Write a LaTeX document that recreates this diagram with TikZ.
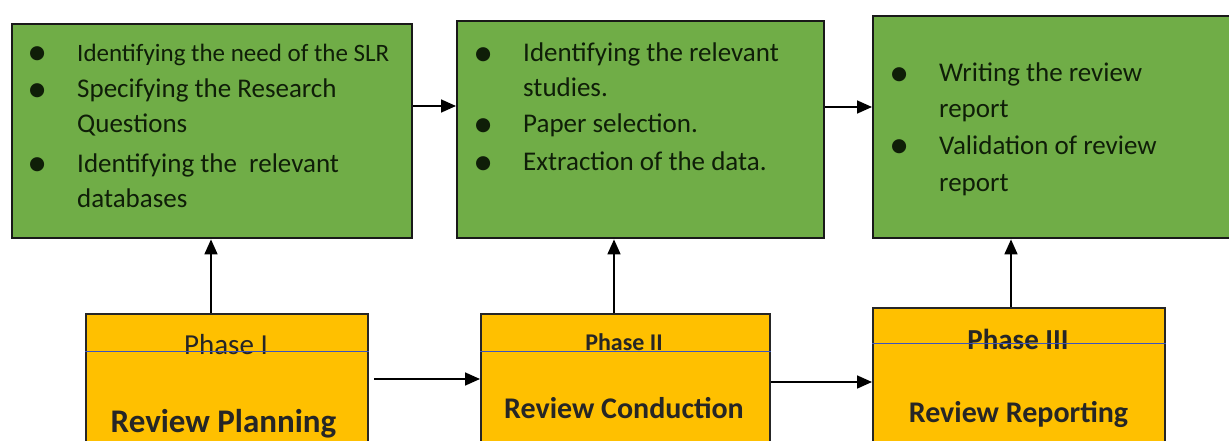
\documentclass[tikz,border=0pt]{standalone}
\usepackage{fontspec}
\setmainfont{Carlito}
\newfontfamily\symfont{DejaVu Sans}
\usetikzlibrary{arrows.meta}
\definecolor{gbox}{RGB}{112,173,71}
\definecolor{obox}{RGB}{255,192,0}
\definecolor{divline}{RGB}{60,85,190}
\definecolor{gtext}{RGB}{15,30,8}
\newcommand\bitem{\makebox[40pt][l]{\makebox[0pt]{\smash{\raisebox{2.7pt}{\symfont\fontsize{18.5}{18.5}\selectfont ●}}}}}
\newcommand\bcont{\hspace*{40pt}}
\newcommand\twolines[2]{\vtop{\hbox{#1}\hbox{#2}}}
\newcommand\gfont{\fontsize{27}{35}\selectfont}
\begin{document}
\begin{tikzpicture}[x=1pt,y=-1pt,
  greenbox/.style={draw=black!90, line width=2.4pt, fill=gbox, inner sep=0pt, anchor=north west},
  orangebox/.style={draw=black!85, line width=2.2pt, fill=obox, inner sep=0pt, anchor=north west},
  itemtext/.style={anchor=base west, inner sep=0pt, text=gtext, font=\gfont},
  phasetext/.style={anchor=base, inner sep=0pt, text=black!85},
  divider/.style={draw=divline, line width=1pt},
  arr/.style={draw=black, line width=1.7pt, -{Triangle[length=15pt,width=13pt]}}
]
\useasboundingbox (0,0) rectangle (1229,441);
\clip (0,0) rectangle (1229,441);

% green boxes
\node[greenbox, minimum width=400pt, minimum height=214pt] (g1) at (11,23) {};
\node[greenbox, minimum width=367pt, minimum height=217pt] (g2) at (456,20) {};
\node[greenbox, minimum width=363pt, minimum height=222pt] (g3) at (872,15) {};

% orange boxes
\node[orangebox, minimum width=282pt, minimum height=150pt] (o1) at (85,313) {};
\node[orangebox, minimum width=289pt, minimum height=150pt] (o2) at (480,313) {};
\node[orangebox, minimum width=292pt, minimum height=156pt] (o3) at (872,307) {};

% green box texts
\node[itemtext, font=\fontsize{25}{35}\selectfont] (g1a) at (37,61.5) {\bitem Identifying the need of the SLR};
\node[itemtext] (g1b) at (37,98) {\twolines{\bitem Specifying the Research}{\bcont Questions}};
\node[itemtext] (g1c) at (37,172) {\twolines{\bitem Identifying the\ \ relevant}{\bcont databases}};

\node[itemtext] (g2a) at (483,62) {\twolines{\bitem Identifying the relevant}{\bcont studies.}};
\node[itemtext] (g2b) at (483,133) {\bitem Paper selection.};
\node[itemtext] (g2c) at (483,171) {\bitem Extraction of the data.};

\node[itemtext, font=\fontsize{27}{36}\selectfont] (g3a) at (899,82) {\twolines{\bitem Writing the review}{\bcont report}};
\node[itemtext, font=\fontsize{27}{37}\selectfont] (g3b) at (899,154) {\twolines{\bitem Validation of review}{\bcont report}};

% orange box texts
\node[phasetext, font=\fontsize{29}{29}\selectfont] (p1) at (226,354) {Phase I};
\node[phasetext, font=\bfseries\fontsize{24}{24}\selectfont] (p2) at (624,350) {Phase II};
\node[phasetext, font=\bfseries\fontsize{29}{29}\selectfont] (p3) at (1018,349) {Phase III};
\node[phasetext, font=\bfseries\fontsize{33}{33}\selectfont] (r1) at (223.5,432) {Review Planning};
\node[phasetext, font=\bfseries\fontsize{30}{30}\selectfont] (r2) at (624,418) {Review Conduction};
\node[phasetext, font=\bfseries\fontsize{30}{30}\selectfont] (r3) at (1018.5,422) {Review Reporting};

% dividers
\draw[divider] (o1.west |- 0,351) -- (o1.east |- 0,351);
\draw[divider] (o2.west |- 0,351) -- (o2.east |- 0,351);
\draw[divider] (o3.west |- 0,343) -- (o3.east |- 0,343);

% arrows
\draw[arr] (g1.east |- 0,106) -- (g2.west |- 0,106);
\draw[arr] (g2.east |- 0,107) -- (g3.west |- 0,107);
\draw[arr, shorten <=5pt] (o1.east |- 0,379) -- (o2.west |- 0,379);
\draw[arr] (o2.east |- 0,382) -- (o3.west |- 0,382);
\draw[arr] (o1.north -| 211,0) -- (g1.south -| 211,0);
\draw[arr] (o2.north -| 614,0) -- (g2.south -| 614,0);
\draw[arr] (o3.north -| 1011,0) -- (g3.south -| 1011,0);
\end{tikzpicture}
\end{document}
